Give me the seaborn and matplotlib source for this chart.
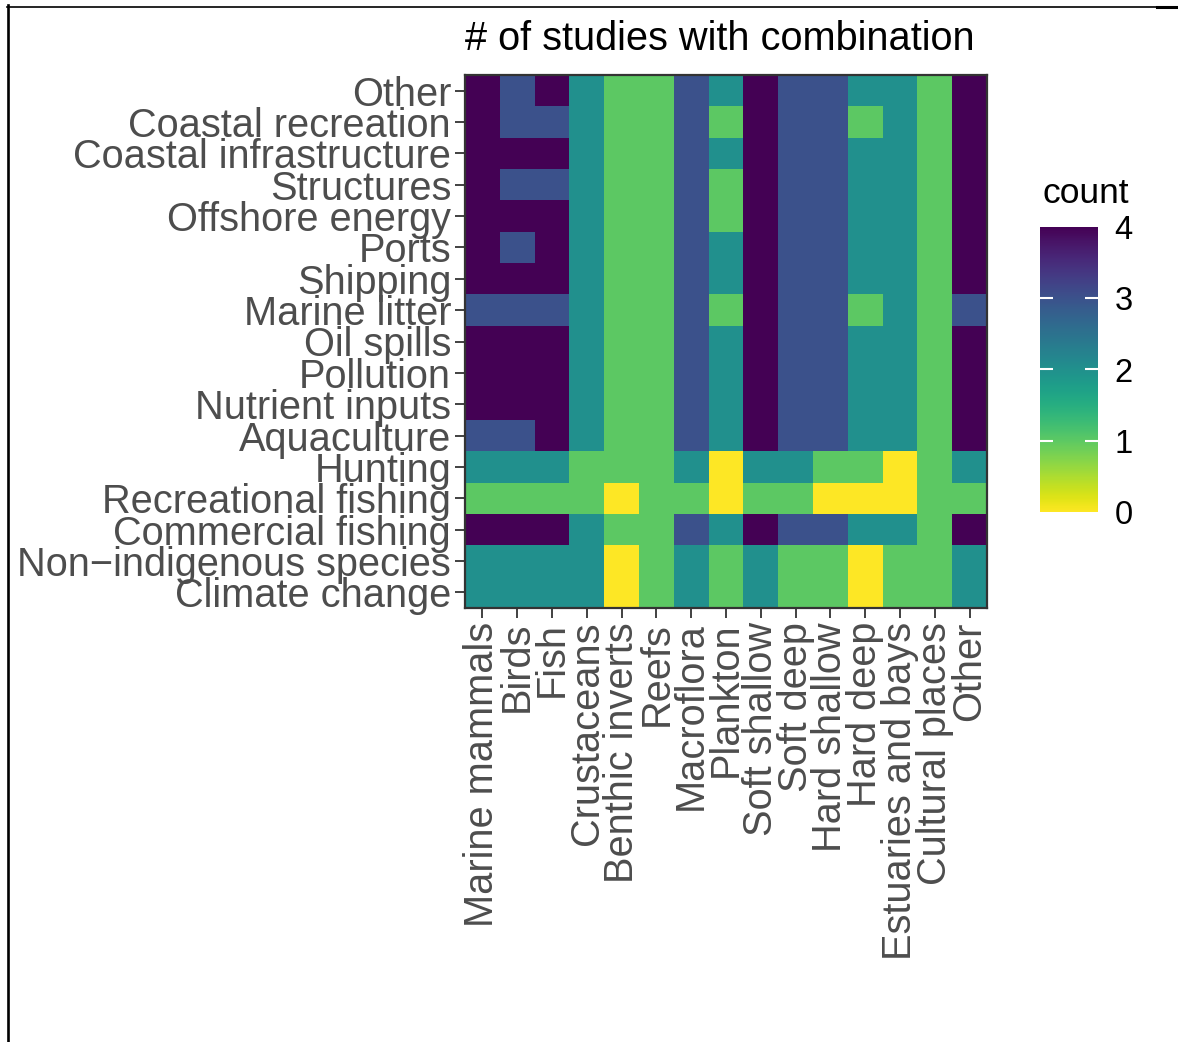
import numpy as np
import pandas as pd
import matplotlib
matplotlib.use("Agg")
import matplotlib.pyplot as plt
from matplotlib.lines import Line2D
from matplotlib.transforms import ScaledTranslation
import seaborn as sns

# Pressures (rows, top to bottom) and ecosystem components (columns)
pressures = [
    "Other", "Coastal recreation", "Coastal infrastructure", "Structures",
    "Offshore energy", "Ports", "Shipping", "Marine litter", "Oil spills",
    "Pollution", "Nutrient inputs", "Aquaculture", "Hunting",
    "Recreational fishing", "Commercial fishing", "Non\u2212indigenous species",
    "Climate change",
]
components = [
    "Marine mammals", "Birds", "Fish", "Crustaceans", "Benthic inverts",
    "Reefs", "Macroflora", "Plankton", "Soft shallow", "Soft deep",
    "Hard shallow", "Hard deep", "Estuaries and bays", "Cultural places",
    "Other",
]

# Number of studies for each pressure x component combination
other_p        = [4, 3, 4, 2, 1, 1, 3, 2, 4, 3, 3, 2, 2, 1, 4]
coastal_rec    = [4, 3, 3, 2, 1, 1, 3, 1, 4, 3, 3, 1, 2, 1, 4]
coastal_infra  = [4, 4, 4, 2, 1, 1, 3, 2, 4, 3, 3, 2, 2, 1, 4]
structures     = [4, 3, 3, 2, 1, 1, 3, 1, 4, 3, 3, 2, 2, 1, 4]
offshore       = [4, 4, 4, 2, 1, 1, 3, 1, 4, 3, 3, 2, 2, 1, 4]
ports          = [4, 3, 4, 2, 1, 1, 3, 2, 4, 3, 3, 2, 2, 1, 4]
shipping       = [4, 4, 4, 2, 1, 1, 3, 2, 4, 3, 3, 2, 2, 1, 4]
marine_litter  = [3, 3, 3, 2, 1, 1, 3, 1, 4, 3, 3, 1, 2, 1, 3]
oil_spills     = [4, 4, 4, 2, 1, 1, 3, 2, 4, 3, 3, 2, 2, 1, 4]
pollution      = [4, 4, 4, 2, 1, 1, 3, 2, 4, 3, 3, 2, 2, 1, 4]
nutrients      = [4, 4, 4, 2, 1, 1, 3, 2, 4, 3, 3, 2, 2, 1, 4]
aquaculture    = [3, 3, 4, 2, 1, 1, 3, 2, 4, 3, 3, 2, 2, 1, 4]
hunting        = [2, 2, 2, 1, 1, 1, 2, 0, 2, 2, 1, 1, 0, 1, 2]
rec_fishing    = [1, 1, 1, 1, 0, 1, 1, 0, 1, 1, 0, 0, 0, 1, 1]
comm_fishing   = [4, 4, 4, 2, 1, 1, 3, 2, 4, 3, 3, 2, 2, 1, 4]
non_indigenous = [2, 2, 2, 2, 0, 1, 2, 1, 2, 1, 1, 0, 1, 1, 2]
climate        = [2, 2, 2, 2, 0, 1, 2, 1, 2, 1, 1, 0, 1, 1, 2]

counts = pd.DataFrame(
    [other_p, coastal_rec, coastal_infra, structures, offshore, ports,
     shipping, marine_litter, oil_spills, pollution, nutrients, aquaculture,
     hunting, rec_fishing, comm_fishing, non_indigenous, climate],
    index=pressures, columns=components,
)

plt.rcParams["font.family"] = ["Liberation Sans", "DejaVu Sans"]

W, H = 1178, 1042
fig = plt.figure(figsize=(W / 100, H / 100), dpi=100)
fig.patch.set_facecolor("white")

ax = fig.add_axes([465 / W, 1 - 608 / H, (987 - 465) / W, (608 - 75) / H])
cax = fig.add_axes([1040 / W, 1 - 512 / H, 58 / W, (512 - 227) / H])

sns.heatmap(counts, ax=ax, cmap="viridis_r", vmin=0, vmax=4, cbar_ax=cax,
            linewidths=0, square=False)

# Panel border
for side in ["top", "right", "bottom", "left"]:
    ax.spines[side].set_visible(True)
    ax.spines[side].set_color("#333333")
    ax.spines[side].set_linewidth(1.6)

label_col = "#4d4d4d"
fs = 28.6
ax.set_xlabel("")
ax.set_ylabel("")
ax.set_xticks(np.arange(len(components)) + 0.5)
ax.set_yticks(np.arange(len(pressures)) + 0.5)
ax.set_xticklabels(components, rotation=90, fontsize=fs, color=label_col,
                   ha="center", va="top")
ax.set_yticklabels(pressures, rotation=0, fontsize=fs, color=label_col)
ax.tick_params(axis="both", direction="out", length=7, width=1.3,
               color="#333333", pad=3)

# Nudge the row labels down a little so the cap height sits on the tick
shift = ScaledTranslation(0, -4 / 100, fig.dpi_scale_trans)
for lab in ax.get_yticklabels():
    lab.set_transform(lab.get_transform() + shift)

# Title, left-aligned with the panel
fig.text(465 / W, 1 - 50 / H, "# of studies with combination",
         fontsize=28.6, color="black", ha="left", va="baseline")

# Colour bar styling
cb = ax.collections[0].colorbar
cb.outline.set_visible(False)
cb.set_ticks([0, 1, 2, 3, 4])
cax.tick_params(length=0, pad=12, labelsize=23.5, labelcolor="black")
for v in [1, 2, 3]:
    cax.plot([0, 0.22], [v, v], color="white", lw=1.5, solid_capstyle="butt")
    cax.plot([0.78, 1], [v, v], color="white", lw=1.5, solid_capstyle="butt")
cax.set_xlim(0, 1)
cax.set_ylim(0, 4)
fig.text(1043 / W, 1 - 203 / H, "count", fontsize=25.5, color="black",
         ha="left", va="baseline")

# Frame lines around the page
fig.add_artist(Line2D([8 / W, 8 / W], [1 - 5 / H, 0], color="black", lw=1.9,
                      transform=fig.transFigure))
fig.add_artist(Line2D([7 / W, 1157 / W], [1 - 6.5 / H, 1 - 6.5 / H],
                      color="black", lw=1.2, transform=fig.transFigure))
fig.add_artist(Line2D([1157 / W, 1], [1 - 6.8 / H, 1 - 6.8 / H],
                      color="black", lw=2.2, transform=fig.transFigure))

fig.savefig("out.png", dpi=100, facecolor="white")
